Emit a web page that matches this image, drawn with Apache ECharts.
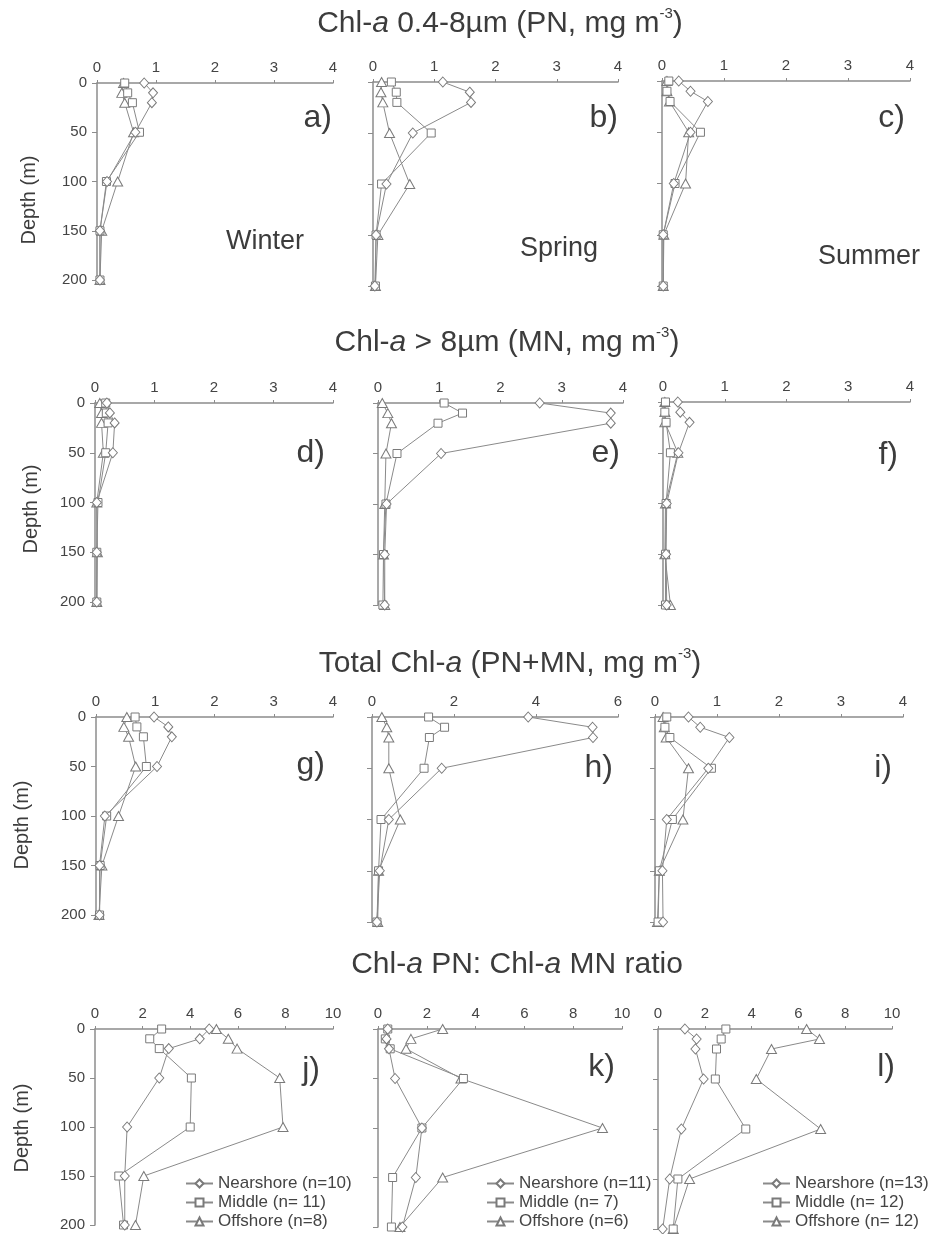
<!DOCTYPE html>
<html>
<head>
<meta charset="utf-8">
<script src="https://cdn.jsdelivr.net/npm/echarts@6/dist/echarts.min.js"></script>
<style>
html, body { margin: 0; padding: 0; background: #fff; }
#main { width: 928px; height: 1234px; }
</style>
</head>
<body>
<div id="main"></div>
<script>
var FONT = '"Liberation Sans", Arial, sans-serif';

// sampling depths (m)
var depths = [0, 10, 20, 50, 100, 150, 200];

// Chl-a 0.4-8um (PN) : winter / spring / summer
var aNear = [0.80, 0.95, 0.93, 0.65, 0.17, 0.05, 0.05];
var aMid  = [0.47, 0.52, 0.60, 0.72, 0.16, 0.05, 0.05];
var aOff  = [0.45, 0.42, 0.47, 0.62, 0.35, 0.08, 0.05];
var bNear = [1.14, 1.58, 1.60, 0.65, 0.22, 0.05, 0.03];
var bMid  = [0.30, 0.38, 0.39, 0.95, 0.14, 0.05, 0.04];
var bOff  = [0.14, 0.13, 0.16, 0.27, 0.60, 0.08, 0.04];
var cNear = [0.27, 0.46, 0.74, 0.46, 0.19, 0.02, 0.02];
var cMid  = [0.11, 0.08, 0.13, 0.62, 0.21, 0.02, 0.02];
var cOff  = [0.08, 0.08, 0.12, 0.43, 0.38, 0.03, 0.02];

// Chl-a > 8um (MN)
var dNear = [0.20, 0.25, 0.33, 0.30, 0.03, 0.03, 0.03];
var dMid  = [0.18, 0.19, 0.22, 0.18, 0.05, 0.03, 0.03];
var dOff  = [0.08, 0.11, 0.11, 0.14, 0.03, 0.04, 0.03];
var eNear = [2.64, 3.80, 3.80, 1.03, 0.14, 0.11, 0.11];
var eMid  = [1.08, 1.38, 0.98, 0.31, 0.13, 0.09, 0.08];
var eOff  = [0.07, 0.16, 0.22, 0.13, 0.11, 0.09, 0.11];
var fNear = [0.24, 0.28, 0.43, 0.25, 0.06, 0.05, 0.06];
var fMid  = [0.04, 0.03, 0.05, 0.12, 0.05, 0.04, 0.04];
var fOff  = [0.03, 0.03, 0.03, 0.24, 0.04, 0.03, 0.12];

// Total Chl-a (PN+MN)
var gNear = [0.98, 1.22, 1.28, 1.03, 0.15, 0.06, 0.06];
var gMid  = [0.66, 0.69, 0.80, 0.85, 0.18, 0.07, 0.06];
var gOff  = [0.52, 0.47, 0.55, 0.67, 0.38, 0.10, 0.05];
var hNear = [3.81, 5.38, 5.39, 1.70, 0.41, 0.19, 0.12];
var hMid  = [1.38, 1.77, 1.40, 1.27, 0.22, 0.16, 0.12];
var hOff  = [0.24, 0.36, 0.41, 0.41, 0.69, 0.16, 0.14];
var iNear = [0.54, 0.73, 1.20, 0.86, 0.19, 0.12, 0.13];
var iMid  = [0.19, 0.16, 0.24, 0.91, 0.28, 0.07, 0.05];
var iOff  = [0.13, 0.15, 0.18, 0.54, 0.45, 0.07, 0.04];

// PN : MN ratio
var jNear = [4.80, 4.40, 3.10, 2.70, 1.35, 1.25, 1.25];
var jMid  = [2.80, 2.30, 2.70, 4.05, 4.00, 1.00, 1.20];
var jOff  = [5.10, 5.60, 5.97, 7.76, 7.90, 2.05, 1.70];
var kNear = [0.40, 0.35, 0.45, 0.70, 1.80, 1.55, 1.00];
var kMid  = [0.40, 0.30, 0.50, 3.50, 1.80, 0.60, 0.55];
var kOff  = [2.65, 1.35, 1.15, 3.40, 9.20, 2.65, 0.90];
var lNear = [1.15, 1.65, 1.60, 1.95, 1.00, 0.50, 0.20];
var lMid  = [2.90, 2.70, 2.50, 2.45, 3.75, 0.85, 0.65];
var lOff  = [6.35, 6.90, 4.85, 4.20, 6.95, 1.35, 0.65];

var jNames = ['Nearshore (n=10)', 'Middle (n= 11)', 'Offshore (n=8)'];
var kNames = ['Nearshore (n=11)', 'Middle (n= 7)', 'Offshore (n=6)'];
var lNames = ['Nearshore (n=13)', 'Middle (n= 12)', 'Offshore (n= 12)'];
var plainNames = ['Nearshore', 'Middle', 'Offshore'];

var panels = [
	{data: [aNear, aMid, aOff], max: 4, step: 1, box: [97, 83, 236, 197], letter: 'a)'},
	{data: [bNear, bMid, bOff], max: 4, step: 1, box: [373, 82, 245, 204], letter: 'b)'},
	{data: [cNear, cMid, cOff], max: 4, step: 1, box: [662, 81, 248, 205], letter: 'c)'},
	{data: [dNear, dMid, dOff], max: 4, step: 1, box: [95, 403, 238, 199], letter: 'd)'},
	{data: [eNear, eMid, eOff], max: 4, step: 1, box: [378, 403, 245, 202], letter: 'e)'},
	{data: [fNear, fMid, fOff], max: 4, step: 1, box: [663, 402, 247, 203], letter: 'f)'},
	{data: [gNear, gMid, gOff], max: 4, step: 1, box: [96, 717, 237, 198], letter: 'g)'},
	{data: [hNear, hMid, hOff], max: 6, step: 2, box: [372, 717, 246, 205], letter: 'h)'},
	{data: [iNear, iMid, iOff], max: 4, step: 1, box: [655, 717, 248, 205], letter: 'i)'},
	{data: [jNear, jMid, jOff], max: 10, step: 2, box: [95, 1029, 238, 196], letter: 'j)', names: jNames},
	{data: [kNear, kMid, kOff], max: 10, step: 2, box: [378, 1029, 244, 198], letter: 'k)', names: kNames},
	{data: [lNear, lMid, lOff], max: 10, step: 2, box: [658, 1029, 234, 200], letter: 'l)', names: lNames}
];

var symbols = ['diamond', 'rect', 'triangle'];
var symbolSizes = [[9, 10], 8, [10, 9]];
var axisColor = '#8c8c8c';

function pairs(vals) {
	return vals.map(function (v, i) { return [v, depths[i]]; });
}

var grid = [], xAxis = [], yAxis = [], series = [];

panels.forEach(function (p, idx) {
	grid.push({left: p.box[0], top: p.box[1], width: p.box[2], height: p.box[3]});
	xAxis.push({
		gridIndex: idx,
		type: 'value',
		position: 'top',
		min: 0,
		max: p.max,
		interval: p.step,
		axisLine: {onZero: false, lineStyle: {color: axisColor, width: 1.5}},
		axisTick: {show: true, length: 3, lineStyle: {color: axisColor}},
		axisLabel: {fontSize: 15, color: '#444', margin: 8, fontFamily: FONT},
		splitLine: {show: false}
	});
	yAxis.push({
		gridIndex: idx,
		type: 'value',
		inverse: true,
		min: 0,
		max: 200,
		interval: 50,
		axisLine: {show: true, onZero: false, lineStyle: {color: axisColor, width: 1.5}},
		axisTick: {show: true, length: 5, lineStyle: {color: axisColor}},
		axisLabel: {show: idx % 3 === 0, fontSize: 15, color: '#444', margin: 10, fontFamily: FONT},
		splitLine: {show: false}
	});
	var names = p.names || plainNames;
	p.data.forEach(function (vals, s) {
		series.push({
			name: names[s],
			type: 'line',
			xAxisIndex: idx,
			yAxisIndex: idx,
			data: pairs(vals),
			symbol: symbols[s],
			symbolSize: symbolSizes[s],
			lineStyle: {color: '#8a8a8a', width: 1},
			itemStyle: {color: '#fff', borderColor: '#7a7a7a', borderWidth: 1},
			z: 3 - s
		});
	});
});

function legendFor(names, left) {
	return {
		orient: 'vertical',
		left: left,
		top: 1175,
		height: 70,
		padding: 0,
		itemWidth: 27,
		itemHeight: 10,
		itemGap: 2,
		selectedMode: false,
		data: names,
		textStyle: {fontSize: 17, color: '#444', fontFamily: FONT}
	};
}

var titleRich = {
	n: {fontSize: 30, color: '#3c3c3c', fontFamily: FONT, fontWeight: 'normal', lineHeight: 36},
	i: {fontSize: 30, color: '#3c3c3c', fontFamily: FONT, fontWeight: 'normal', fontStyle: 'italic', lineHeight: 36},
	s: {fontSize: 15, color: '#3c3c3c', fontFamily: FONT, fontWeight: 'normal', verticalAlign: 'top', lineHeight: 33}
};

function rowTitle(text, x, y) {
	return {
		text: text, left: x, top: y, textAlign: 'center', padding: 0,
		textStyle: {fontWeight: 'normal', rich: titleRich}
	};
}

var titles = [
	rowTitle('{n|Chl-}{i|a}{n| 0.4-8µm (PN, mg m}{s|-3}{n|)}', 500, 6),
	rowTitle('{n|Chl-}{i|a}{n| > 8µm (MN, mg m}{s|-3}{n|)}', 507, 325),
	rowTitle('{n|Total Chl-}{i|a}{n| (PN+MN, mg m}{s|-3}{n|)}', 510, 646),
	rowTitle('{n|Chl-}{i|a}{n| PN: Chl-}{i|a}{n| MN ratio}', 517, 947)
];

var graphic = [];
var letterPos = [
	[332, 118], [618, 118], [905, 118],
	[325, 453], [620, 453], [898, 455],
	[325, 765], [613, 768], [892, 768],
	[320, 1070], [615, 1067], [895, 1067]
];
panels.forEach(function (p, idx) {
	graphic.push({
		type: 'text', x: letterPos[idx][0], y: letterPos[idx][1],
		style: {text: p.letter, font: '32px ' + FONT, fill: '#3c3c3c', align: 'right', verticalAlign: 'middle'}
	});
});
[['Winter', 265, 242], ['Spring', 559, 249], ['Summer', 869, 257]].forEach(function (s) {
	graphic.push({
		type: 'text', x: s[1], y: s[2],
		style: {text: s[0], font: '27px ' + FONT, fill: '#3c3c3c', align: 'center', verticalAlign: 'middle'}
	});
});
[[29, 200], [31, 509], [22, 825], [22, 1128]].forEach(function (d) {
	graphic.push({
		type: 'text', x: d[0], y: d[1], rotation: Math.PI / 2,
		style: {text: 'Depth (m)', font: '20px ' + FONT, fill: '#3c3c3c', align: 'center', verticalAlign: 'middle'}
	});
});

var chart = echarts.init(document.getElementById('main'));
chart.setOption({
	backgroundColor: '#fff',
	animation: false,
	title: titles,
	legend: [legendFor(jNames, 185), legendFor(kNames, 486), legendFor(lNames, 762)],
	grid: grid,
	xAxis: xAxis,
	yAxis: yAxis,
	series: series,
	graphic: graphic
});
</script>
</body>
</html>
